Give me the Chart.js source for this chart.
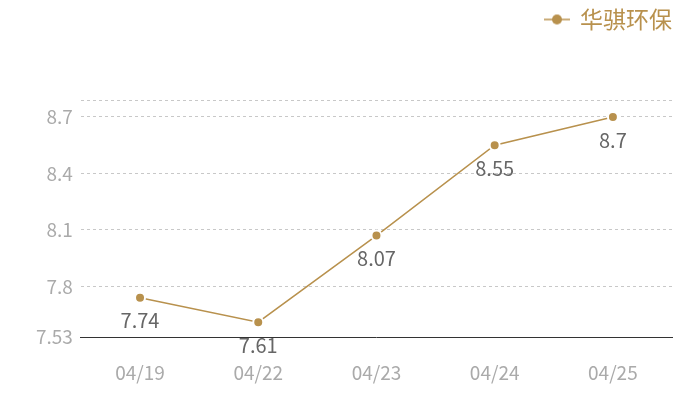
<!DOCTYPE html>
<html>
<head>
<meta charset="utf-8">
<script src="https://cdn.jsdelivr.net/npm/chart.js@4/dist/chart.umd.min.js"></script>
<style>
  html, body { margin: 0; padding: 0; background: #fff; }
  #wrap { width: 700px; height: 400px; }
</style>
</head>
<body>
<div id="wrap"><canvas id="priceChart"></canvas></div>
<script>
// chart data
const dates = ['04/19', '04/22', '04/23', '04/24', '04/25'];
const prices = [7.74, 7.61, 8.07, 8.55, 8.7];
const seriesName = '华骐环保';
const yTicks = [7.53, 7.8, 8.1, 8.4, 8.7, 8.79];
const yTickLabels = ['7.53', '7.8', '8.1', '8.4', '8.7', ''];

const gold = '#B8914D';
const fontStack = '"Noto Sans CJK SC", "Noto Sans", "DejaVu Sans", sans-serif';

// legend marker: short line with a dot
function legendMarker() {
    const c = document.createElement('canvas');
    c.width = 26;
    c.height = 12;
    const g = c.getContext('2d');
    g.strokeStyle = gold;
    g.lineWidth = 1.5;
    g.beginPath();
    g.moveTo(0, 6);
    g.lineTo(26, 6);
    g.stroke();
    g.fillStyle = gold;
    g.beginPath();
    g.arc(13, 6, 5, 0, Math.PI * 2);
    g.fill();
    return c;
}

// value labels under each point
const valueLabels = {
    id: 'valueLabels',
    afterDatasetsDraw(chart) {
        const ctx = chart.ctx;
        const meta = chart.getDatasetMeta(0);
        ctx.save();
        ctx.fillStyle = '#666';
        ctx.font = '20px ' + fontStack;
        ctx.textAlign = 'center';
        ctx.textBaseline = 'middle';
        meta.data.forEach(function(pt, i) {
            ctx.fillText(String(prices[i]), pt.x, pt.y + 23);
        });
        ctx.restore();
    }
};

// fixed legend band height so the plot starts lower
const legendSpace = {
    id: 'legendSpace',
    beforeInit(chart) {
        const origFit = chart.legend.fit;
        chart.legend.fit = function() {
            origFit.bind(this)();
            this.height = 92;
        };
    }
};

new Chart(document.getElementById('priceChart'), {
    type: 'line',
    data: {
        labels: dates,
        datasets: [{
            label: seriesName,
            data: prices,
            borderColor: gold,
            backgroundColor: gold,
            borderWidth: 1.5,
            pointRadius: 5,
            pointBorderWidth: 2,
            pointBorderColor: '#fff',
            pointBackgroundColor: gold,
            tension: 0
        }]
    },
    options: {
        responsive: true,
        maintainAspectRatio: false,
        animation: false,
        layout: {
            padding: { top: 8, right: 28, bottom: 0, left: 28 }
        },
        plugins: {
            legend: {
                position: 'top',
                align: 'end',
                labels: {
                    usePointStyle: true,
                    color: gold,
                    padding: 0,
                    font: { size: 23, family: fontStack },
                    generateLabels: function(chart) {
                        return [{
                            text: seriesName,
                            fontColor: gold,
                            pointStyle: legendMarker(),
                            datasetIndex: 0,
                            lineWidth: 0,
                            hidden: false
                        }];
                    }
                }
            },
            tooltip: { enabled: false }
        },
        scales: {
            x: {
                offset: true,
                grid: { display: false },
                border: { display: true, color: '#333', width: 1 },
                ticks: {
                    color: '#aaa',
                    padding: 16,
                    font: { size: 19, family: fontStack }
                }
            },
            y: {
                min: 7.53,
                max: 8.79,
                border: { display: false, dash: [3, 3] },
                grid: {
                    drawTicks: false,
                    color: function(ctx) {
                        return ctx.index === 0 ? 'rgba(0,0,0,0)' : '#c8c8c8';
                    }
                },
                afterBuildTicks: function(scale) {
                    scale.ticks = yTicks.map(v => ({ value: v }));
                },
                ticks: {
                    color: '#aaa',
                    padding: 8,
                    font: { size: 19, family: fontStack },
                    callback: function(value, index) {
                        return yTickLabels[index];
                    }
                }
            }
        }
    },
    plugins: [valueLabels, legendSpace]
});
</script>
</body>
</html>
